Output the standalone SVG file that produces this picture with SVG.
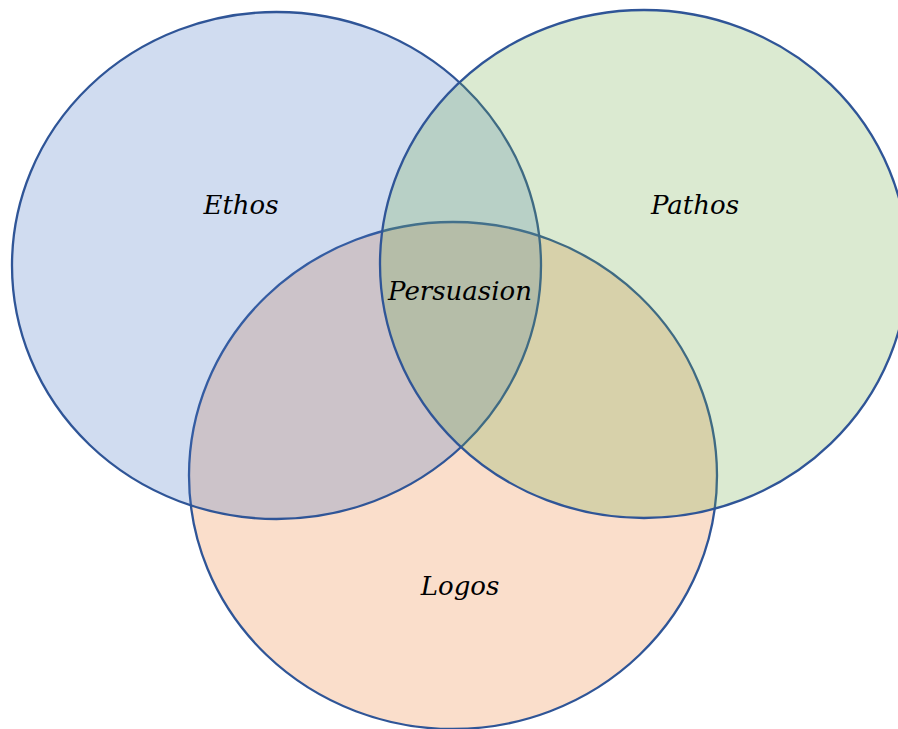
<svg xmlns="http://www.w3.org/2000/svg" width="898" height="729" viewBox="0 0 898 729">
<style>
.c{stroke:#2F5597;stroke-width:2.3}
.t{font-family:"DejaVu Serif","Liberation Serif",serif;font-style:italic;font-size:26px;fill:#000;text-anchor:middle}
</style>
<rect width="898" height="729" fill="#fff"/>
<g id="logos"><ellipse class="c" cx="453" cy="475.5" rx="264" ry="253.5" fill="rgba(237,125,49,0.25)"/></g>
<g id="ethos"><ellipse class="c" cx="276.5" cy="265.5" rx="264.5" ry="253.5" fill="rgba(68,114,196,0.25)"/></g>
<g id="pathos"><ellipse class="c" cx="644" cy="264" rx="264" ry="254" fill="rgba(112,173,71,0.25)"/></g>
<g id="labels">
<text class="t" x="241" y="214">Ethos</text>
<text class="t" x="695" y="214">Pathos</text>
<text class="t" x="460" y="300">Persuasion</text>
<text class="t" x="460" y="595">Logos</text>
</g>
</svg>
